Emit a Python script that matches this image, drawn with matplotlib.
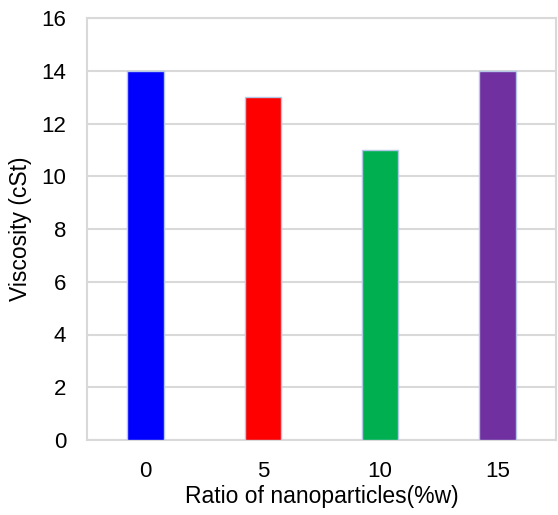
import matplotlib.pyplot as plt

plt.rcParams["font.family"] = ["Liberation Sans", "DejaVu Sans"]

categories = ["0", "5", "10", "15"]
viscosity = [14, 13, 11, 14]
colors = ["#0000FF", "#FF0000", "#00B050", "#7030A0"]

fig = plt.figure(figsize=(5.58, 5.15), dpi=100)
ax = fig.add_axes([87 / 558, 75 / 515, 469 / 558, 422 / 515])

x = range(len(categories))
ax.bar(x, viscosity, width=0.31, color=colors, edgecolor="#B4C7E7", linewidth=1, zorder=3)

ax.set_xlim(-0.5, len(categories) - 0.5)
ax.set_ylim(0, 16)
ax.set_yticks(range(0, 17, 2))
ax.set_xticks(list(x))
ax.set_xticklabels(categories)
ax.tick_params(axis="both", length=0, labelsize=16, colors="#000000")
ax.tick_params(axis="x", pad=15)
ax.tick_params(axis="y", pad=15)

ax.grid(axis="y", color="#D9D9D9", linewidth=1.5, zorder=0)
for side in ["left", "right", "top", "bottom"]:
    ax.spines[side].set_color("#D9D9D9")
    ax.spines[side].set_linewidth(1.5)

ax.set_xlabel("Ratio of nanoparticles(%w)", fontsize=16.5, labelpad=2)
ax.set_ylabel("Viscosity (cSt)", fontsize=16.5, labelpad=7)

plt.savefig("out.png", dpi=100)
